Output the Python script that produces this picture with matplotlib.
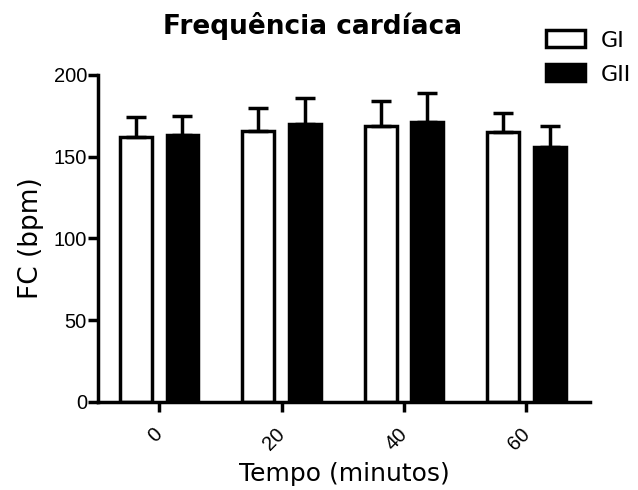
import numpy as np
import matplotlib
matplotlib.use('Agg')
import matplotlib.pyplot as plt

plt.rcParams['font.family'] = ['DejaVu Sans']

tempos = ['0', '20', '40', '60']
gi_mean = [162, 166, 169, 165]
gi_sd = [12, 14, 15, 12]
gii_mean = [163, 170, 171, 156]
gii_sd = [12, 16, 18, 13]

fig = plt.figure(figsize=(6.38, 4.9), dpi=100)
ax = fig.add_axes([0.1536, 0.1796, 0.7714, 0.6674])

x = np.arange(len(tempos))
w = 0.26
off = 0.19
lw = 2.5

err_kw = dict(ecolor='black', elinewidth=2.5, capsize=7, capthick=2.5)
ax.bar(x - off, gi_mean, w, color='white', edgecolor='black', linewidth=lw,
       yerr=[np.zeros(4), gi_sd], error_kw=err_kw, label='GI', zorder=2)
ax.bar(x + off, gii_mean, w, color='black', edgecolor='black', linewidth=lw,
       yerr=[np.zeros(4), gii_sd], error_kw=err_kw, label='GII', zorder=2)

ax.set_xlim(-0.5, 3.52)
ax.set_ylim(0, 200)
ax.set_yticks([0, 50, 100, 150, 200])
ax.set_xticks(x)
ax.set_xticklabels(tempos, rotation=45, ha='right', va='center',
                   rotation_mode='anchor', family='Liberation Sans')
for lab in ax.get_yticklabels():
    lab.set_family('Liberation Sans')
for s in ['top', 'right']:
    ax.spines[s].set_visible(False)
for s in ['left', 'bottom']:
    ax.spines[s].set_linewidth(2.5)
ax.tick_params(width=2.5, length=7, labelsize=14.5)
ax.tick_params(axis='y', pad=1)
ax.tick_params(axis='x', pad=14)

ax.set_ylabel('FC (bpm)', fontsize=19, labelpad=7)
ax.set_xlabel('Tempo (minutos)', fontsize=18, labelpad=6)
fig.text(0.4906, 0.931, 'Frequência cardíaca', fontsize=19, fontweight='bold',
         ha='center', va='baseline')

leg = fig.legend(loc='upper left', bbox_to_anchor=(0.856, 0.938), frameon=False,
                 fontsize=16, handlelength=1.75, handleheight=0.8,
                 handletextpad=0.7, labelspacing=0.62, borderpad=0,
                 borderaxespad=0)

fig.savefig('out.png', dpi=100)
